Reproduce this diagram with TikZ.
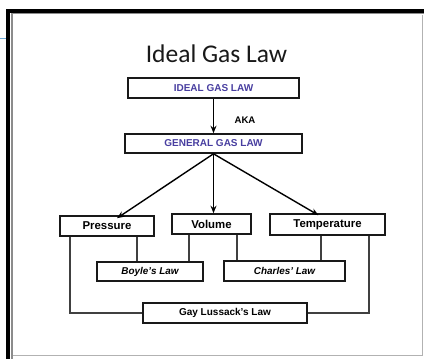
\documentclass[tikz,border=0pt]{standalone}
\usepackage{fontspec}
\setmainfont{Liberation Sans}
\newfontfamily\titlefont{Carlito}
\usetikzlibrary{arrows.meta}
\definecolor{hdrblue}{RGB}{72,62,160}
\definecolor{edgeblue}{RGB}{110,170,215}
\tikzset{
  box/.style={draw=black!90, line width=1.6pt, inner sep=0pt, align=center, font=\bfseries\fontsize{10}{12}\selectfont},
  hdr/.style={box, text=hdrblue},
  var/.style={box, font=\bfseries\fontsize{11.4}{13}\selectfont},
  law/.style={box, font=\bfseries\itshape\fontsize{9.9}{12}\selectfont},
  arr/.style={line width=1.4pt, -{Stealth[length=7.5pt,width=6pt]}},
  link/.style={line width=1.3pt, draw=black!75}
}
\begin{document}
\begin{tikzpicture}[x=1pt,y=-1pt]
\useasboundingbox (0,0) rectangle (424,359);
\fill[white] (0,0) rectangle (424,359);
% frame
\draw[edgeblue, line width=0.8pt] (0,38) -- (8,38);
\draw[black!45, line width=1.5pt] (12,359) -- (12,13.5) -- (424,13.5);
\draw[black!30, line width=1pt] (422,15) -- (422,355) -- (13,355);
\draw[black, line width=4pt] (8,359) -- (8,11) -- (424,11);
% title
\node[anchor=base, text=black!90, font=\titlefont\fontsize{25.5}{30}\selectfont] (title) at (216.5,62) {Ideal Gas Law};
% boxes
\node[hdr, minimum width=171pt, minimum height=20pt] (ideal) at (213.5,88) {IDEAL GAS LAW};
\node[hdr, minimum width=177pt, minimum height=19pt] (general) at (213.5,143.5) {GENERAL GAS LAW};
\node[font=\bfseries\fontsize{9.6}{11}\selectfont] (aka) at (245,120) {AKA};
\node[var, minimum width=94pt, minimum height=20pt] (pressure) at (107,226) {Pressure};
\node[var, minimum width=79pt, minimum height=20pt] (volume) at (211.5,224) {Volume};
\node[var, minimum width=115pt, minimum height=21pt] (temperature) at (327.5,224.5) {Temperature};
\node[law, minimum width=106pt, minimum height=19pt] (boyle) at (150,271.5) {Boyle's Law};
\node[law, minimum width=121pt, minimum height=20pt] (charles) at (284.5,271) {Charles' Law};
\node[box, minimum width=164pt, minimum height=20pt] (gay) at (225,313) {Gay Lussack's Law};
% arrows
\draw[arr] (ideal.south) -- (general.north);
\draw[arr] (general.south) -- ([xshift=10pt,yshift=-3pt]pressure.north);
\draw[arr] (general.south) -- (general.south |- volume.north);
\draw[arr] (general.south) -- ([xshift=-9pt,yshift=-2pt]temperature.north);
% links
\coordinate (c1) at (137,0);
\coordinate (c2) at (189,0);
\coordinate (c3) at (237,0);
\coordinate (c4) at (321,0);
\coordinate (c5) at (70,0);
\coordinate (c6) at (369,0);
\draw[link] (c1 |- pressure.south) -- (c1 |- boyle.north);
\draw[link] (c2 |- volume.south) -- (c2 |- boyle.north);
\draw[link] (c3 |- volume.south) -- (c3 |- charles.north);
\draw[link] (c4 |- temperature.south) -- (c4 |- charles.north);
\draw[link] (c5 |- pressure.south) -- (c5 |- gay.west) -- (gay.west);
\draw[link] (c6 |- temperature.south) -- (c6 |- gay.east) -- (gay.east);
\end{tikzpicture}
\end{document}
